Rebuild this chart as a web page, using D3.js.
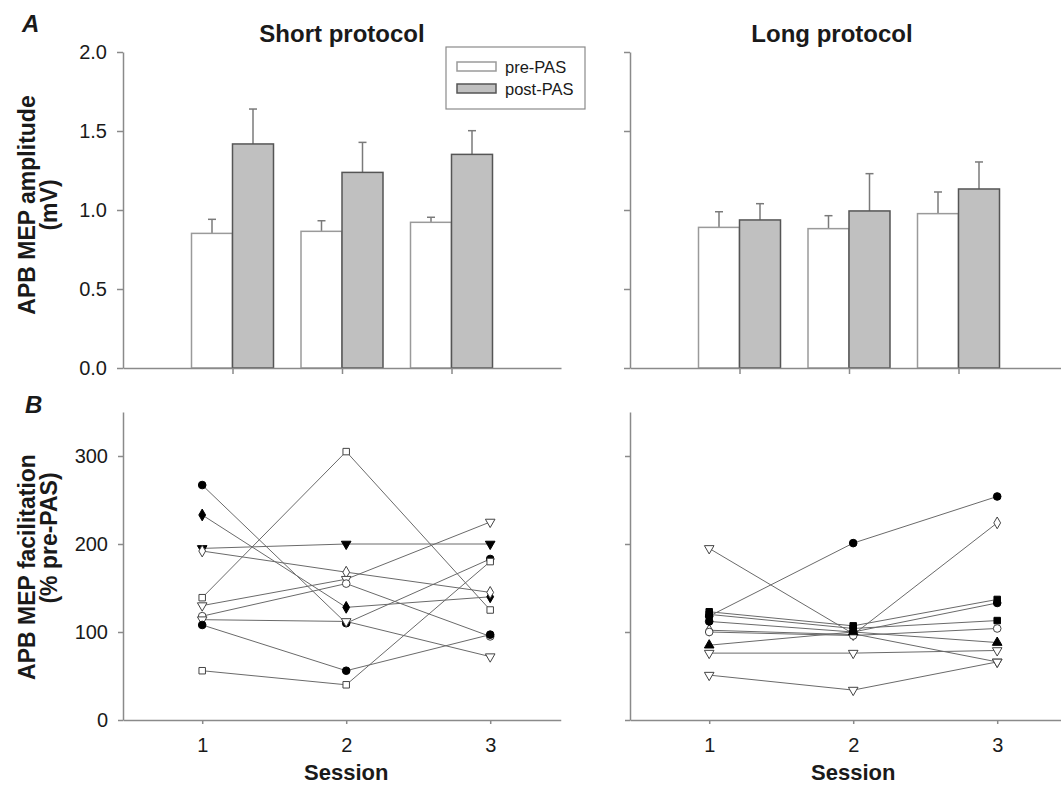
<!DOCTYPE html>
<html>
<head>
<meta charset="utf-8">
<script src="https://cdn.jsdelivr.net/npm/d3@7"></script>
<style>
    body { margin: 0; background: #fff; }
    text { font-family: Arial, "Liberation Sans", sans-serif; fill: #1a1a1a; }
</style>
</head>
<body>
<svg id="fig" width="1061" height="785"></svg>
<script>
// ---- data ----
const sessions = [1, 2, 3];
const barTicks = [0, 0.5, 1.0, 1.5, 2.0];
const lineTicks = [0, 100, 200, 300];

// A: MEP amplitude (mV), mean and upper SE
const shortPre = [0.852, 0.865, 0.922];
const shortPreErr = [0.089, 0.067, 0.032];
const shortPost = [1.418, 1.238, 1.352];
const shortPostErr = [0.221, 0.190, 0.150];

const longPre = [0.890, 0.882, 0.977];
const longPreErr = [0.099, 0.082, 0.137];
const longPost = [0.937, 0.994, 1.133];
const longPostErr = [0.103, 0.236, 0.171];

// B: facilitation (% pre-PAS), one row per subject, sessions 1..3
const shortSubjects = [
    [267, 110, 183],
    [233, 128, 140],
    [195, 200, 200],
    [192, 168, 145],
    [139, 305, 125],
    [130, 160, 225],
    [118, 155, 95],
    [114, 112, 72],
    [108, 56, 97],
    [56, 40, 180],
];
const shortSymbols = ["circle-f", "diamond-f", "tridown-f", "diamond-o", "square-o",
    "tridown-o", "circle-o", "tridown-o", "circle-f", "square-o"];

const longSubjects = [
    [195, 98, 66],
    [118, 201, 254],
    [102, 97, 224],
    [123, 107, 137],
    [112, 100, 133],
    [120, 104, 113],
    [100, 96, 104],
    [85, 100, 88],
    [76, 76, 79],
    [51, 34, 66],
];
const longSymbols = ["tridown-o", "circle-f", "diamond-o", "square-f", "circle-f",
    "square-f", "circle-o", "triangle-f", "tridown-o", "tridown-o"];

const svg = d3.select('#fig');
const ctx = {
    LEFT_X: 123,
    RIGHT_X: 630,
    BAR_TOP: 52,
    BAR_BASE: 368,
    LINE_TOP: 412,
    LINE_BASE: 720,
    GROUP_STEP: 109.5,
    SESSION_STEP: 144,
    BAR_W: 41,
    AXIS_COLOR: "#8a8a8a",
    TICK_FONT: "20px",
};

main();

function main() {
    barPanel(ctx.LEFT_X, shortPre, shortPreErr, shortPost, shortPostErr, true);
    barPanel(ctx.RIGHT_X, longPre, longPreErr, longPost, longPostErr, false);
    linePanel(ctx.LEFT_X, shortSubjects, shortSymbols, true);
    linePanel(ctx.RIGHT_X, longSubjects, longSymbols, false);
    drawLegend();
    drawTexts();
}

function styleAxis(g) {
    g.select(".domain").attr("stroke", ctx.AXIS_COLOR).attr("stroke-width", 1.5);
    g.selectAll(".tick line").attr("stroke", ctx.AXIS_COLOR).attr("stroke-width", 1.5);
    g.selectAll(".tick text")
        .style("font-size", ctx.TICK_FONT)
        .attr("fill", "#1a1a1a")
        .attr("font-family", null);
}

function barPanel(x0, pre, preErr, post, postErr, showLabels) {
    const x = d3.scaleLinear().domain([0, 4]).range([x0, x0 + 4 * ctx.GROUP_STEP]);
    const y = d3.scaleLinear().domain([0, 2]).range([ctx.BAR_BASE, ctx.BAR_TOP]);
    const g = svg.append("g");

    const rows = sessions.flatMap((s, i) => [
        { s: s, v: pre[i], e: preErr[i], off: -1, fill: "#ffffff", stroke: "#9a9a9a" },
        { s: s, v: post[i], e: postErr[i], off: 0, fill: "#c0c0c0", stroke: "#555555" },
    ]);

    // error bars first (only the upper half shows)
    const cx = d => x(d.s) + d.off * ctx.BAR_W + ctx.BAR_W / 2;
    g.selectAll("line.err")
        .data(rows)
        .join("line")
        .attr("class", "err")
        .attr("x1", cx).attr("x2", cx)
        .attr("y1", d => y(d.v)).attr("y2", d => y(d.v + d.e))
        .attr("stroke", "#7a7a7a").attr("stroke-width", 1.5);
    g.selectAll("line.cap")
        .data(rows)
        .join("line")
        .attr("class", "cap")
        .attr("x1", d => cx(d) - 4).attr("x2", d => cx(d) + 4)
        .attr("y1", d => y(d.v + d.e)).attr("y2", d => y(d.v + d.e))
        .attr("stroke", "#7a7a7a").attr("stroke-width", 1.5);

    g.selectAll("rect.bar")
        .data(rows)
        .join("rect")
        .attr("class", "bar")
        .attr("x", d => x(d.s) + d.off * ctx.BAR_W)
        .attr("y", d => y(d.v))
        .attr("width", ctx.BAR_W)
        .attr("height", d => y(0) - y(d.v))
        .attr("fill", d => d.fill)
        .attr("stroke", d => d.stroke)
        .attr("stroke-width", 1.5);

    const yAxis = d3.axisLeft(y)
        .tickValues(barTicks)
        .tickSize(6)
        .tickSizeOuter(0)
        .tickPadding(10)
        .tickFormat(showLabels ? d3.format(".1f") : "");
    g.append("g").attr("transform", `translate(${x0},0)`).call(yAxis).call(styleAxis);

    const xAxis = d3.axisBottom(x)
        .tickValues(sessions)
        .tickSize(6)
        .tickSizeOuter(0)
        .tickFormat("");
    g.append("g").attr("transform", `translate(0,${ctx.BAR_BASE})`).call(xAxis).call(styleAxis);
}

function symbolPath(name) {
    const [shape, fillKind] = name.split("-");
    const types = {
        circle: [d3.symbolCircle, 46],
        square: [d3.symbolSquare, 42],
        diamond: [d3.symbolDiamond, 40],
        triangle: [d3.symbolTriangle, 40],
        tridown: [d3.symbolTriangle, 40],
    };
    const [type, size] = types[shape];
    return {
        d: d3.symbol().type(type).size(size)(),
        rot: shape === "tridown" ? 180 : 0,
        filled: fillKind === "f",
    };
}

function linePanel(x0, subjects, symbols, showLabels) {
    const x = d3.scaleLinear()
        .domain([0.45, 3.49])
        .range([x0, x0 + 3.04 * ctx.SESSION_STEP]);
    const y = d3.scaleLinear().domain([0, 350]).range([ctx.LINE_BASE, ctx.LINE_TOP]);
    const g = svg.append("g");

    const line = d3.line()
        .x((d, i) => x(sessions[i]))
        .y(d => y(d));

    g.selectAll("path.subj")
        .data(subjects)
        .join("path")
        .attr("class", "subj")
        .attr("d", line)
        .attr("fill", "none")
        .attr("stroke", "#6a6a6a")
        .attr("stroke-width", 1);

    subjects.forEach((vals, k) => {
        const sym = symbolPath(symbols[k]);
        g.selectAll(null)
            .data(vals)
            .join("path")
            .attr("d", sym.d)
            .attr("transform", (d, i) => `translate(${x(sessions[i])},${y(d)}) rotate(${sym.rot})`)
            .attr("fill", sym.filled ? "#000" : "#fff")
            .attr("stroke", sym.filled ? "#000" : "#444")
            .attr("stroke-width", 1);
    });

    const yAxis = d3.axisLeft(y)
        .tickValues(lineTicks)
        .tickSize(5)
        .tickSizeOuter(0)
        .tickPadding(10)
        .tickFormat(showLabels ? d3.format("d") : "");
    g.append("g").attr("transform", `translate(${x0},0)`).call(yAxis).call(styleAxis);

    const xAxis = d3.axisBottom(x)
        .tickValues(sessions)
        .tickSize(4)
        .tickSizeOuter(0)
        .tickPadding(14)
        .tickFormat(d3.format("d"));
    g.append("g").attr("transform", `translate(0,${ctx.LINE_BASE})`).call(xAxis).call(styleAxis);

    g.append("text")
        .attr("x", x(2))
        .attr("y", 780)
        .attr("text-anchor", "middle")
        .style("font-size", "22px")
        .style("font-weight", "bold")
        .text("Session");
}

function drawLegend() {
    const g = svg.append("g");
    g.append("rect")
        .attr("x", 446).attr("y", 47).attr("width", 139).attr("height", 62)
        .attr("fill", "#fff").attr("stroke", "#8a8a8a").attr("stroke-width", 1.2);
    const items = [
        { label: "pre-PAS", fill: "#ffffff", stroke: "#9a9a9a" },
        { label: "post-PAS", fill: "#c0c0c0", stroke: "#555555" },
    ];
    items.forEach((it, i) => {
        g.append("rect")
            .attr("x", 457).attr("y", 62 + i * 22).attr("width", 39).attr("height", 9)
            .attr("fill", it.fill).attr("stroke", it.stroke).attr("stroke-width", 1.5);
        g.append("text")
            .attr("x", 505).attr("y", 73 + i * 22)
            .style("font-size", "16.5px")
            .text(it.label);
    });
}

function drawTexts() {
    const bold = (sel, size) => sel.style("font-size", size).style("font-weight", "bold");

    svg.append("text").attr("x", 342).attr("y", 42).attr("text-anchor", "middle")
        .call(bold, "24px").text("Short protocol");
    svg.append("text").attr("x", 832).attr("y", 42).attr("text-anchor", "middle")
        .call(bold, "24px").text("Long protocol");

    svg.append("text").attr("x", 22).attr("y", 32)
        .call(bold, "24px").style("font-style", "italic").text("A");
    svg.append("text").attr("x", 25).attr("y", 413)
        .call(bold, "24px").style("font-style", "italic").text("B");

    const rotLabel = (x, y, txt) => svg.append("text")
        .attr("transform", `translate(${x},${y}) rotate(-90)`)
        .attr("text-anchor", "middle")
        .call(bold, "23px")
        .text(txt);
    rotLabel(35, 205, "APB MEP amplitude");
    rotLabel(57, 205, "(mV)");
    rotLabel(35, 567, "APB MEP facilitation");
    rotLabel(57, 538, "(% pre-PAS)");
}
</script>
</body>
</html>
